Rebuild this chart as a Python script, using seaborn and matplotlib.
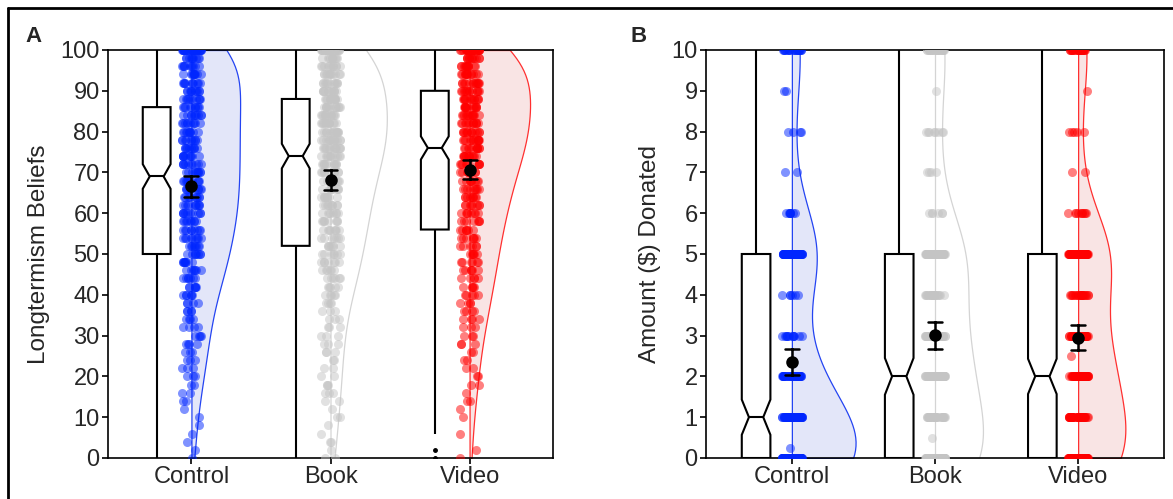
import numpy as np
import pandas as pd
import matplotlib
matplotlib.use("Agg")
import matplotlib.pyplot as plt
from matplotlib.lines import Line2D
import seaborn as sns

groups = ["Control", "Book", "Video"]
dot_colors = ["#0026ff", "#c4c4c4", "#ff0000"]
fill_colors = ["#dfe3fd", "#ffffff", "#fde0e0"]
edge_colors = ["#2444f2", "#d4d4d4", "#ff3030"]

# panel A: longtermism beliefs (0-100), number of answers at each score
belief_levels = list(range(0, 101, 2))
belief_control = [1, 1, 1, 1, 1, 1, 1, 2, 2, 2, 3, 3, 3, 3, 4, 4, 4, 4, 4, 4,
                  6, 6, 7, 7, 8, 8, 8, 9, 9, 9, 10, 10, 10, 10, 10, 10, 10, 10,
                  10, 10, 10, 10, 10, 10, 10, 10, 10, 10, 10, 10, 26]
belief_book = [2, 1, 2, 1, 1, 2, 1, 2, 3, 3, 2, 2, 2, 3, 3, 3, 3, 3, 3, 4,
               5, 5, 6, 6, 7, 7, 7, 7, 8, 8, 8, 9, 9, 9, 9, 9, 11, 11, 13, 13,
               13, 12, 12, 12, 12, 12, 11, 11, 11, 10, 24]
belief_video = [1, 1, 0, 1, 0, 1, 1, 2, 1, 2, 2, 2, 2, 2, 3, 3, 3, 4, 4, 4,
                5, 5, 5, 6, 6, 6, 6, 7, 7, 7, 8, 8, 9, 9, 9, 10, 10, 12, 12, 13,
                13, 13, 13, 13, 13, 13, 13, 13, 12, 12, 26]

# panel B: amount donated ($0-10), number of answers at each amount
donation_levels = [0, 1, 2, 3, 4, 5, 6, 7, 8, 9, 10]
donation_control = [134, 50, 34, 12, 6, 58, 8, 2, 4, 2, 20]
donation_book = [85, 29, 45, 30, 20, 54, 6, 4, 8, 1, 22]
donation_video = [86, 40, 49, 30, 20, 64, 10, 2, 5, 1, 22]
# a few odd amounts
donation_odd_control = [0.25]
donation_odd_book = [0.5]
donation_odd_video = [2.5]


def make_frame(levels, count_lists, odd_lists):
    parts = []
    for i, (g, counts, odd) in enumerate(zip(groups, count_lists, odd_lists)):
        vals = np.concatenate([np.repeat(levels, counts), odd])
        parts.append(pd.DataFrame({"group": g, "pos": i, "value": vals}))
    df = pd.concat(parts, ignore_index=True)
    df["box"] = df["pos"] - 0.25
    return df


df_a = make_frame(belief_levels, [belief_control, belief_book, belief_video], [[], [], []])
df_b = make_frame(donation_levels, [donation_control, donation_book, donation_video],
                  [donation_odd_control, donation_odd_book, donation_odd_video])

sns.set_style("ticks")
plt.rcParams["font.family"] = ["Liberation Sans", "DejaVu Sans"]
plt.rcParams["axes.linewidth"] = 1.2
np.random.seed(3)


def half_violin(ax, d, pos, width, fill, edge, bw_adjust):
    # seaborn draws the split half on the wrong side here, so fold it over
    # to start at the category centre and grow to the right
    n_before = len(ax.collections)
    sns.violinplot(data=d, x="pos", y="value", native_scale=True, orient="x", ax=ax,
                   split=True, inner=None, cut=0, width=width, bw_adjust=bw_adjust,
                   color=fill, linecolor=edge, linewidth=0.9)
    for coll in ax.collections[n_before:]:
        new_verts = []
        for path in coll.get_paths():
            v = np.array(path.vertices, dtype=float)
            xs = v[:, 0]
            lo, hi = xs.min(), xs.max()
            flat = hi if np.isclose(xs, hi).sum() >= np.isclose(xs, lo).sum() else lo
            v[:, 0] = pos + np.abs(xs - flat)
            new_verts.append(v)
        coll.set_verts(new_verts)


def raincloud(ax, df, widths, bw_adjust, ymax, step, ylabel, label_x):
    for i, g in enumerate(groups):
        d = df[df["group"] == g]
        sns.boxplot(data=d, x="box", y="value", native_scale=True, orient="x", ax=ax,
                    width=0.2, notch=True, showcaps=False, color="white",
                    linecolor="black", linewidth=1.5, fliersize=2.5,
                    flierprops=dict(markerfacecolor="black", markeredgecolor="black"))
        half_violin(ax, d, i, widths[i], fill_colors[i], edge_colors[i], bw_adjust)
        sns.stripplot(data=d, x="pos", y="value", native_scale=True, orient="x", ax=ax,
                      jitter=0.07, size=6.5, color=dot_colors[i], alpha=0.5,
                      linewidth=0, zorder=3)
        sns.pointplot(data=d, x="pos", y="value", native_scale=True, orient="x", ax=ax,
                      errorbar=("se", 1.96), color="black", markers="o", markersize=7,
                      linestyle="none", capsize=0.1,
                      err_kws={"linewidth": 1.8, "zorder": 5}, zorder=6)
    ax.set_xlim(-0.6, 2.6)
    ax.set_ylim(0, ymax)
    ax.set_xticks([0, 1, 2])
    ax.set_xticklabels(groups)
    ax.set_yticks(np.arange(0, ymax + step / 2, step))
    ax.set_xlabel("")
    ax.set_ylabel(ylabel, fontsize=17.5)
    ax.yaxis.set_label_coords(label_x, 0.5)
    ax.tick_params(labelsize=17, length=4, width=1.2, color="black", pad=2)
    for s in ax.spines.values():
        s.set_color("black")
        s.set_linewidth(1.2)


fig = plt.figure(figsize=(11.73, 4.99), dpi=100)
ax_a = fig.add_axes([108 / 1173, 41 / 499, 445 / 1173, 408 / 499])
ax_b = fig.add_axes([706 / 1173, 41 / 499, 458 / 1173, 408 / 499])

raincloud(ax_a, df_a, [0.35, 0.405, 0.435], 1.0, 100, 10, "Longtermism Beliefs", -0.13)
raincloud(ax_b, df_b, [0.445, 0.335, 0.33], 1.2, 10, 1, "Amount ($) Donated", -0.098)

fig.text(25 / 1173, 1 - 26 / 499, "A", fontsize=16, fontweight="bold", va="top")
fig.text(630 / 1173, 1 - 26 / 499, "B", fontsize=16, fontweight="bold", va="top")

fig.add_artist(Line2D([8 / 1173, 8 / 1173], [0, 1 - 8 / 499], transform=fig.transFigure,
                      color="black", linewidth=2))
fig.add_artist(Line2D([8 / 1173, 1], [1 - 8 / 499, 1 - 8 / 499], transform=fig.transFigure,
                      color="black", linewidth=2))

fig.savefig("out.png", dpi=100)
